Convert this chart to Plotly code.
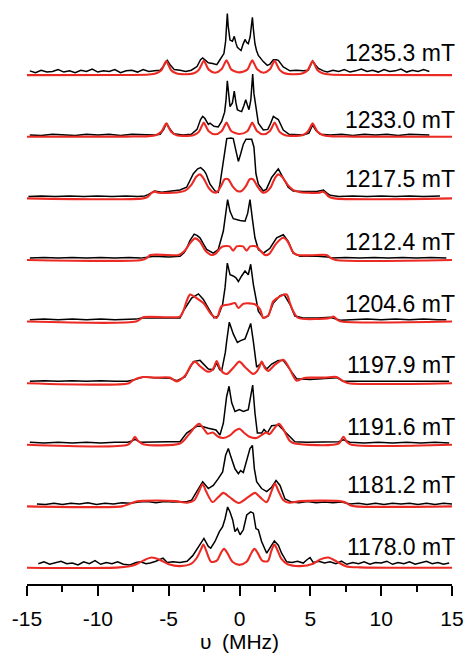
import plotly.graph_objects as go

# ---- data (x in MHz, y = relative intensity above each trace's baseline) ----
fields = ["1178.0 mT", "1181.2 mT", "1191.6 mT", "1197.9 mT", "1204.6 mT",
          "1212.4 mT", "1217.5 mT", "1233.0 mT", "1235.3 mT"]
x_ticks = [-15, -10, -5, 0, 5, 10, 15]

exp_1235 = [(-14.8,0.07),(-14.4,0.04),(-14.0,0.08),(-13.6,0.05),(-13.2,0.06),(-12.8,0.09),(-12.4,0.05),(-12.0,0.07),
            (-11.6,0.04),(-11.2,0.08),(-10.8,0.06),(-10.4,0.1),(-10.0,0.05),(-9.6,0.07),(-9.2,0.06),(-8.8,0.09),
            (-8.4,0.04),(-8.0,0.07),(-7.6,0.08),(-7.2,0.05),(-6.8,0.09),(-6.4,0.06),(-6.0,0.07),
            (-5.6,0.08),(-5.35,0.15),(-5.1,0.24),(-4.9,0.17),(-4.6,0.09),(-4.2,0.08),(-3.8,0.06),(-3.4,0.08),
            (-3.0,0.14),(-2.75,0.25),(-2.6,0.28),(-2.4,0.24),(-2.2,0.2),(-1.9,0.19),(-1.6,0.17),(-1.38,0.25),
            (-1.1,0.35),(-0.98,0.55),(-0.9,0.85),(-0.86,1.0),(-0.8,0.8),(-0.67,0.57),(-0.5,0.55),(-0.37,0.63),
            (-0.25,0.52),(-0.15,0.45),(0.0,0.42),(0.11,0.4),(0.25,0.5),(0.39,0.58),(0.51,0.53),(0.62,0.51),
            (0.75,0.62),(0.86,0.85),(0.91,0.94),(0.98,0.75),(1.09,0.51),(1.2,0.4),(1.33,0.32),(1.68,0.22),
            (1.96,0.16),(2.15,0.18),(2.39,0.25),(2.6,0.25),(2.74,0.24),(3.09,0.135),(3.56,0.07),(4.0,0.08),
            (4.5,0.07),(4.85,0.08),(5.0,0.15),(5.16,0.23),(5.35,0.17),(5.57,0.11),(5.92,0.07),
            (6.2,0.05),(6.6,0.08),(7.0,0.06),(7.4,0.09),(7.8,0.05),(8.2,0.07),(8.6,0.1),(9.0,0.06),(9.4,0.08),
            (9.8,0.05),(10.2,0.09),(10.6,0.06),(11.0,0.07),(11.4,0.1),(11.8,0.05),(12.2,0.08),(12.6,0.06),
            (13.0,0.09),(13.4,0.06)]
sim_1235 = [(-15,0),(-8,0.003),(-6.4,0.01),(-5.87,0.03),(-5.52,0.08),(-5.32,0.17),(-5.17,0.23),(-5.02,0.17),
            (-4.82,0.08),(-4.47,0.03),(-3.85,0.015),(-3.22,0.03),(-2.87,0.085),(-2.67,0.175),(-2.52,0.235),
            (-2.37,0.175),(-2.17,0.09),(-1.72,0.04),(-1.27,0.095),(-1.07,0.18),(-0.92,0.24),(-0.77,0.18),
            (-0.57,0.09),(0.0,0.045),(0.55,0.09),(0.75,0.18),(0.9,0.24),(1.05,0.18),(1.25,0.095),(1.7,0.04),
            (2.13,0.09),(2.33,0.175),(2.48,0.235),(2.63,0.175),(2.83,0.085),(3.18,0.03),(3.82,0.015),
            (4.46,0.03),(4.81,0.08),(5.01,0.17),(5.16,0.23),(5.31,0.17),(5.51,0.08),(5.86,0.03),(6.4,0.01),
            (8,0.003),(15,0)]

exp_1233 = [(-14.8,0.03),(-14.0,0.02),(-13.2,0.04),(-12.4,0.03),(-11.6,0.02),(-10.8,0.04),(-10.0,0.03),(-9.2,0.04),
            (-8.4,0.02),(-7.6,0.04),(-6.8,0.03),(-6.0,0.03),
            (-5.6,0.04),(-5.35,0.12),(-5.15,0.22),(-4.95,0.14),(-4.65,0.05),(-4.0,0.03),(-3.4,0.04),(-3.0,0.12),
            (-2.75,0.28),(-2.6,0.33),(-2.45,0.3),(-2.2,0.2),(-2.08,0.22),(-1.8,0.17),(-1.5,0.16),(-1.26,0.25),
            (-1.05,0.4),(-0.95,0.6),(-0.86,0.91),(-0.78,0.7),(-0.67,0.49),(-0.5,0.55),(-0.37,0.74),(-0.25,0.55),
            (-0.15,0.44),(0.0,0.42),(0.15,0.41),(0.3,0.5),(0.44,0.6),(0.55,0.52),(0.67,0.44),(0.8,0.6),
            (0.93,1.02),(1.02,0.7),(1.16,0.44),(1.33,0.22),(1.68,0.11),(2.0,0.12),(2.2,0.22),(2.39,0.33),
            (2.6,0.3),(2.74,0.28),(3.09,0.11),(3.5,0.04),(4.5,0.03),(4.9,0.06),(5.16,0.19),(5.4,0.1),(5.7,0.04),
            (6.4,0.03),(7.2,0.04),(8.0,0.02),(8.8,0.04),(9.6,0.03),(10.4,0.04),(11.2,0.02),(12.0,0.04),
            (12.8,0.03),(13.4,0.03)]
sim_1233 = [(-15,0),(-8,0.003),(-6.4,0.01),(-5.87,0.03),(-5.52,0.08),(-5.32,0.16),(-5.17,0.22),(-5.02,0.16),
            (-4.82,0.08),(-4.47,0.03),(-3.85,0.015),(-3.22,0.03),(-2.87,0.08),(-2.67,0.17),(-2.52,0.23),
            (-2.37,0.17),(-2.17,0.09),(-1.72,0.04),(-1.27,0.09),(-1.07,0.17),(-0.92,0.23),(-0.77,0.17),
            (-0.57,0.09),(0.0,0.045),(0.55,0.09),(0.75,0.17),(0.9,0.23),(1.05,0.17),(1.25,0.09),(1.7,0.04),
            (2.13,0.09),(2.33,0.17),(2.48,0.23),(2.63,0.17),(2.83,0.08),(3.18,0.03),(3.82,0.015),
            (4.46,0.03),(4.81,0.08),(5.01,0.16),(5.16,0.22),(5.31,0.16),(5.51,0.08),(5.86,0.03),(6.4,0.01),
            (8,0.003),(15,0)]

exp_1217 = [(-14.9,0.03),(-14.0,0.04),(-13.0,0.03),(-12.0,0.04),(-11.0,0.03),(-10.0,0.04),(-9.0,0.03),(-8.0,0.04),
            (-7.2,0.03),(-6.7,0.04),(-6.45,0.06),(-6.2,0.1),(-6.0,0.12),(-5.5,0.1),(-4.9,0.12),(-4.2,0.135),
            (-3.73,0.18),(-3.61,0.23),(-3.26,0.4),(-2.95,0.48),(-2.74,0.5),(-2.5,0.45),(-2.36,0.4),(-2.2,0.3),
            (-2.08,0.23),(-1.73,0.12),(-1.5,0.1),(-1.38,0.23),(-1.14,0.61),(-0.98,0.91),(-0.9,0.97),(-0.6,0.98),
            (-0.44,0.97),(-0.25,0.77),(-0.08,0.6),(0.08,0.72),(0.27,0.88),(0.46,0.96),(0.86,0.96),(1.02,0.83),
            (1.16,0.4),(1.33,0.23),(1.68,0.12),(1.9,0.15),(2.27,0.34),(2.74,0.48),(3.09,0.34),(3.44,0.18),
            (3.79,0.12),(4.5,0.11),(5.45,0.11),(5.92,0.135),(6.2,0.08),(6.4,0.05),(7.0,0.03),(8.0,0.04),
            (9.0,0.03),(10.0,0.04),(11.0,0.03),(12.0,0.04),(13.0,0.03),(14.15,0.04)]
sim_1217 = [(-15,0),(-6.8,0),(-6.45,0.03),(-6.2,0.09),(-5.96,0.11),(-5.7,0.09),(-5.0,0.09),(-4.3,0.1),
            (-3.8,0.13),(-3.4,0.22),(-3.05,0.35),(-2.8,0.39),(-2.55,0.33),(-2.2,0.18),(-1.85,0.1),(-1.6,0.1),
            (-1.3,0.2),(-1.05,0.31),(-0.8,0.31),(-0.5,0.2),(-0.15,0.12),(0.15,0.12),(0.45,0.2),(0.72,0.31),
            (0.95,0.31),(1.25,0.2),(1.6,0.1),(1.85,0.1),(2.2,0.18),(2.5,0.33),(2.75,0.39),(3.0,0.35),
            (3.4,0.22),(3.8,0.135),(4.3,0.1),(5.0,0.09),(5.6,0.09),(5.85,0.11),(6.05,0.09),(6.3,0.03),
            (6.7,0),(15,0)]

exp_1212 = [(-14.8,0.03),(-13.8,0.04),(-12.8,0.03),(-11.8,0.04),(-10.8,0.03),(-9.8,0.04),(-8.8,0.03),(-7.8,0.04),
            (-7.0,0.03),(-6.5,0.05),(-6.0,0.06),(-5.0,0.05),(-4.2,0.06),(-3.9,0.12),(-3.73,0.19),(-3.49,0.32),
            (-3.2,0.42),(-3.0,0.4),(-2.79,0.36),(-2.55,0.26),(-2.32,0.17),(-1.85,0.11),(-1.5,0.17),(-1.14,0.47),
            (-0.98,0.74),(-0.84,0.98),(-0.67,0.79),(-0.44,0.67),(0.04,0.64),(0.39,0.63),(0.58,0.76),(0.74,0.98),
            (0.93,0.63),(1.09,0.36),(1.33,0.17),(1.68,0.11),(2.15,0.19),(2.62,0.36),(3.09,0.41),(3.44,0.3),
            (3.79,0.11),(4.27,0.06),(5.5,0.06),(6.2,0.05),(6.5,0.03),(7.5,0.04),(8.5,0.03),(9.5,0.04),
            (10.5,0.03),(11.5,0.04),(12.5,0.03),(13.5,0.04),(14.6,0.03)]
sim_1212 = [(-15,0),(-6.9,0),(-6.55,0.03),(-6.3,0.08),(-5.0,0.08),(-4.3,0.08),(-3.9,0.14),(-3.5,0.27),
            (-3.14,0.35),(-2.8,0.3),(-2.4,0.15),(-1.96,0.08),(-1.7,0.1),(-1.4,0.18),(-1.2,0.22),(-0.7,0.22),
            (-0.45,0.15),(-0.2,0.22),(0.25,0.22),(0.5,0.15),(0.75,0.22),(1.2,0.22),(1.45,0.16),(1.8,0.08),
            (2.1,0.1),(2.6,0.27),(3.09,0.36),(3.4,0.3),(3.8,0.12),(4.1,0.08),(5.5,0.08),(6.15,0.08),
            (6.45,0.03),(6.8,0),(15,0)]

exp_1204 = [(-14.8,0.03),(-13.8,0.04),(-12.8,0.03),(-11.8,0.04),(-10.8,0.03),(-9.8,0.04),(-8.8,0.03),(-7.8,0.04),
            (-7.3,0.04),(-6.9,0.06),(-6.0,0.06),(-5.0,0.06),(-4.2,0.06),(-3.97,0.17),(-3.38,0.38),(-2.9,0.45),
            (-2.55,0.36),(-2.2,0.22),(-1.8,0.06),(-1.5,0.09),(-1.19,0.28),(-1.02,0.55),(-0.86,0.95),(-0.67,0.76),
            (-0.44,0.74),(-0.25,0.71),(-0.08,0.65),(0.15,0.74),(0.39,0.82),(0.62,0.76),(0.79,0.93),(0.98,0.6),
            (1.14,0.41),(1.33,0.17),(1.68,0.06),(2.03,0.09),(2.39,0.3),(2.86,0.42),(3.14,0.44),(3.56,0.28),
            (3.91,0.09),(4.5,0.06),(5.5,0.06),(6.4,0.07),(7.1,0.02),(8.0,0.03),(9.0,0.04),(10.0,0.03),
            (11.0,0.04),(12.0,0.03),(13.0,0.04),(14.0,0.03),(14.6,0.03)]
sim_1204 = [(-15,0),(-7.3,0),(-7.0,0.04),(-6.8,0.07),(-5.0,0.07),(-4.2,0.08),(-3.97,0.17),(-3.7,0.35),
            (-3.49,0.44),(-3.02,0.38),(-2.55,0.3),(-1.96,0.11),(-1.61,0.06),(-1.26,0.25),(-0.67,0.28),
            (-0.32,0.3),(-0.08,0.22),(0.27,0.29),(1.09,0.28),(1.45,0.2),(1.68,0.06),(2.03,0.1),(2.39,0.33),
            (2.86,0.41),(3.33,0.44),(3.56,0.3),(3.79,0.17),(4.15,0.06),(6.4,0.06),(6.63,0.08),(6.9,0.03),
            (7.2,0),(15,0)]

exp_1197 = [(-14.8,0.03),(-13.8,0.04),(-12.8,0.03),(-11.8,0.04),(-10.8,0.03),(-9.8,0.04),(-8.8,0.03),(-7.9,0.03),
            (-7.5,0.05),(-6.8,0.1),(-6.0,0.09),(-4.91,0.08),(-4.43,0.04),(-3.85,0.1),(-3.26,0.35),(-2.79,0.37),
            (-2.2,0.23),(-1.85,0.22),(-1.61,0.33),(-1.4,0.22),(-1.26,0.2),(-1.0,0.5),(-0.9,0.69),(-0.72,0.99),
            (-0.44,0.8),(-0.15,0.66),(0.08,0.69),(0.39,0.72),(0.62,0.86),(0.79,0.97),(0.97,0.69),(1.21,0.26),
            (1.57,0.33),(1.92,0.23),(2.27,0.31),(2.74,0.37),(3.09,0.37),(3.56,0.23),(4.04,0.07),(4.98,0.06),
            (6.0,0.08),(6.86,0.09),(7.33,0.03),(8.3,0.03),(9.3,0.04),(10.3,0.03),(11.3,0.04),(12.3,0.03),
            (13.3,0.04),(14.3,0.03),(14.8,0.03)]
sim_1197 = [(-15,0),(-7.8,0),(-7.5,0.05),(-6.8,0.1),(-6.0,0.09),(-4.91,0.09),(-4.43,0.03),(-3.85,0.12),
            (-3.4,0.3),(-3.14,0.35),(-2.8,0.28),(-2.3,0.19),(-2.0,0.2),(-1.8,0.26),(-1.61,0.36),(-1.42,0.26),
            (-1.2,0.18),(-0.9,0.15),(-0.4,0.26),(-0.01,0.35),(0.4,0.26),(0.97,0.15),(1.22,0.19),(1.4,0.26),
            (1.57,0.35),(1.78,0.25),(2.03,0.2),(2.5,0.3),(3.09,0.38),(3.5,0.25),(4.04,0.04),(4.5,0.08),
            (4.98,0.09),(6.0,0.09),(6.86,0.1),(7.33,0.03),(7.7,0),(15,0)]

exp_1191 = [(-14.8,0.04),(-13.8,0.03),(-12.8,0.04),(-11.8,0.03),(-10.8,0.04),(-9.8,0.03),(-8.8,0.04),(-7.9,0.04),
            (-7.6,0.06),(-7.38,0.09),(-7.0,0.04),(-6.0,0.05),(-5.0,0.05),(-4.2,0.05),(-3.73,0.19),(-3.02,0.3),
            (-2.67,0.3),(-2.2,0.27),(-1.85,0.25),(-1.66,0.24),(-1.38,0.16),(-1.14,0.35),(-0.91,0.78),(-0.74,0.95),
            (-0.55,0.68),(-0.32,0.54),(-0.01,0.57),(0.27,0.54),(0.62,0.57),(0.81,0.84),(0.93,0.97),(1.09,0.52),
            (1.26,0.19),(1.56,0.19),(1.73,0.25),(1.96,0.19),(2.27,0.31),(2.74,0.32),(3.09,0.24),(3.56,0.135),
            (3.91,0.05),(4.74,0.04),(6.0,0.05),(7.0,0.05),(7.33,0.08),(7.8,0.04),(8.8,0.03),(9.8,0.04),
            (10.8,0.03),(11.8,0.04),(12.8,0.03),(13.8,0.04),(14.8,0.03)]
sim_1191 = [(-15,0),(-7.9,0),(-7.6,0.06),(-7.38,0.13),(-7.15,0.06),(-6.8,0.01),(-4.2,0.02),(-3.6,0.16),
            (-3.1,0.3),(-2.84,0.34),(-2.5,0.25),(-2.25,0.18),(-1.89,0.2),(-1.5,0.13),(-1.14,0.11),(-0.7,0.15),
            (-0.3,0.23),(-0.01,0.26),(0.3,0.2),(0.7,0.13),(1.21,0.11),(1.7,0.18),(1.92,0.2),(2.12,0.17),
            (2.4,0.25),(2.79,0.34),(3.1,0.25),(3.56,0.06),(3.91,0.02),(7.0,0.02),(7.33,0.13),(7.6,0.04),
            (7.9,0),(15,0)]

exp_1181 = [(-14.3,0.04),(-13.7,0.03),(-13.1,0.05),(-12.5,0.03),(-11.9,0.05),(-11.3,0.04),(-10.7,0.06),(-10.1,0.03),
            (-9.5,0.05),(-8.9,0.04),(-8.3,0.06),(-7.7,0.05),(-7.1,0.07),(-6.5,0.08),(-5.9,0.06),(-5.3,0.08),
            (-4.7,0.07),(-4.2,0.07),(-3.7,0.08),(-3.38,0.1),(-3.02,0.23),(-2.6,0.4),(-2.2,0.29),(-1.85,0.34),
            (-1.5,0.45),(-1.19,0.56),(-0.98,0.83),(-0.79,0.94),(-0.6,0.8),(-0.32,0.61),(-0.08,0.53),(0.08,0.58),
            (0.27,0.55),(0.51,0.75),(0.74,0.94),(0.91,0.99),(1.05,0.61),(1.21,0.4),(1.56,0.29),(1.92,0.24),
            (2.27,0.31),(2.58,0.42),(2.86,0.34),(3.21,0.12),(3.68,0.07),(4.2,0.06),(4.8,0.08),(5.4,0.06),
            (6.0,0.07),(6.6,0.06),(7.2,0.07),(7.8,0.04),(8.4,0.05),(9.0,0.03),(9.6,0.05),(10.2,0.03),
            (10.8,0.05),(11.4,0.04),(12.0,0.05),(12.6,0.03),(13.2,0.05),(13.8,0.03),(14.4,0.05),(15.0,0.04)]
sim_1181 = [(-15,0),(-8.3,0),(-7.9,0.03),(-7.3,0.08),(-6.8,0.09),(-4.5,0.085),(-3.7,0.06),(-3.2,0.1),
            (-2.85,0.25),(-2.6,0.36),(-2.35,0.24),(-1.9,0.07),(-1.5,0.15),(-1.14,0.22),(-0.7,0.15),
            (-0.05,0.055),(0.6,0.15),(1.09,0.22),(1.45,0.15),(1.92,0.07),(2.25,0.24),(2.5,0.37),(2.75,0.25),
            (3.1,0.1),(3.5,0.06),(4.3,0.085),(6.9,0.09),(7.4,0.07),(7.8,0.02),(8.2,0),(15,0)]

exp_1178 = [(-14.2,0.07),(-13.8,0.1),(-13.4,0.06),(-13.0,0.09),(-12.6,0.11),(-12.2,0.07),(-11.8,0.08),(-11.4,0.05),
            (-11.0,0.1),(-10.6,0.07),(-10.2,0.12),(-9.8,0.06),(-9.4,0.09),(-9.0,0.07),(-8.6,0.1),(-8.2,0.06),
            (-7.73,0.05),(-7.3,0.09),(-7.0,0.1),(-6.6,0.07),(-6.3,0.08),(-5.9,0.11),(-5.4,0.16),(-5.1,0.09),
            (-4.7,0.1),(-4.2,0.09),(-3.7,0.11),(-3.3,0.2),(-2.79,0.37),(-2.51,0.48),(-2.2,0.35),(-2.03,0.32),
            (-1.73,0.43),(-1.42,0.59),(-1.19,0.67),(-1.02,0.8),(-0.84,0.99),(-0.67,0.91),(-0.48,0.78),
            (-0.32,0.59),(-0.15,0.64),(0.04,0.54),(0.27,0.62),(0.51,0.86),(0.79,0.91),(0.98,0.89),(1.16,0.64),
            (1.33,0.62),(1.56,0.43),(1.92,0.24),(2.27,0.37),(2.46,0.44),(2.74,0.37),(2.97,0.24),(3.33,0.1),
            (3.7,0.09),(4.1,0.11),(4.5,0.08),(4.74,0.13),(4.98,0.17),(5.2,0.09),(5.6,0.11),(6.0,0.08),
            (6.39,0.1),(6.8,0.07),(7.2,0.11),(7.57,0.06),(8.0,0.09),
            (8.4,0.07),(8.8,0.1),(9.2,0.06),(9.6,0.09),(10.0,0.08),(10.4,0.11),(10.8,0.06),(11.2,0.09),
            (11.6,0.07),(12.0,0.1),(12.4,0.06),(12.8,0.08),(13.2,0.11),(13.6,0.07),(14.0,0.09),(14.4,0.06),
            (14.8,0.08)]
sim_1178 = [(-15,0.005),(-8.5,0.01),(-7.4,0.05),(-6.8,0.12),(-6.2,0.17),(-5.6,0.13),(-5.0,0.06),(-4.2,0.03),
            (-3.4,0.07),(-3.0,0.17),(-2.72,0.3),(-2.55,0.38),(-2.35,0.28),(-2.0,0.1),(-1.6,0.12),(-1.3,0.25),
            (-1.09,0.31),(-0.85,0.24),(-0.5,0.1),(-0.01,0.05),(0.5,0.1),(0.83,0.24),(1.05,0.31),(1.27,0.25),
            (1.6,0.12),(2.0,0.11),(2.25,0.28),(2.46,0.38),(2.66,0.3),(2.95,0.15),(3.4,0.06),(4.3,0.03),
            (5.2,0.07),(5.7,0.14),(6.27,0.17),(6.9,0.1),(7.5,0.03),(8.5,0.01),(15,0.005)]

experiments = [exp_1178, exp_1181, exp_1191, exp_1197, exp_1204, exp_1212, exp_1217, exp_1233, exp_1235]
simulations = [sim_1178, sim_1181, sim_1191, sim_1197, sim_1204, sim_1212, sim_1217, sim_1233, sim_1235]

# ---- styling / layout constants ----
FONT = "Arial, Liberation Sans, sans-serif"
RED = "rgb(236,42,36)"
UNIT_PX = 61.6                                     # pixels per trace offset unit
label_lift_px = [21, 21, 18, 18, 18, 18, 19, 17, 22]  # label centre above each baseline (px)

fig = go.Figure()
for i, (ex, sm) in enumerate(zip(experiments, simulations)):
    fig.add_trace(go.Scatter(x=[p[0] for p in ex], y=[p[1] + i for p in ex], mode="lines",
                             line=dict(color="black", width=1.5), showlegend=False, hoverinfo="skip"))
    fig.add_trace(go.Scatter(x=[p[0] for p in sm], y=[p[1] + i for p in sm], mode="lines",
                             line=dict(color=RED, width=2.1, shape="spline", smoothing=0.8),
                             showlegend=False, hoverinfo="skip"))
    fig.add_annotation(x=1.012, y=i + label_lift_px[i] / UNIT_PX, xref="paper", yref="y", text=fields[i],
                       showarrow=False, xanchor="right", yanchor="middle",
                       font=dict(family=FONT, size=23, color="black"))

fig.update_layout(
    width=467, height=653,
    margin=dict(l=27, r=15, t=5, b=69, autoexpand=False),
    paper_bgcolor="white", plot_bgcolor="white",
    xaxis=dict(range=[-15, 15], tickvals=x_ticks, ticktext=[str(v) for v in x_ticks], automargin=False,
               ticks="outside", ticklen=10, tickwidth=1.5, tickcolor="black", ticklabelstandoff=5,
               minor=dict(dtick=2.5, ticks="outside", ticklen=6, tickwidth=1.5, tickcolor="black", showgrid=False),
               showline=True, linecolor="black", linewidth=2, showgrid=False, zeroline=False,
               tickfont=dict(family=FONT, size=21, color="black"),
               title=dict(text="υ\u2002(MHz)", font=dict(family=FONT, size=21, color="black"), standoff=11)),
    yaxis=dict(range=[-0.26, 9.139], visible=False, showgrid=False, zeroline=False, automargin=False),
)

fig.write_html("out.html", config={"displayModeBar": False},
               post_script="document.body.style.margin='0';document.body.style.padding='0';")
